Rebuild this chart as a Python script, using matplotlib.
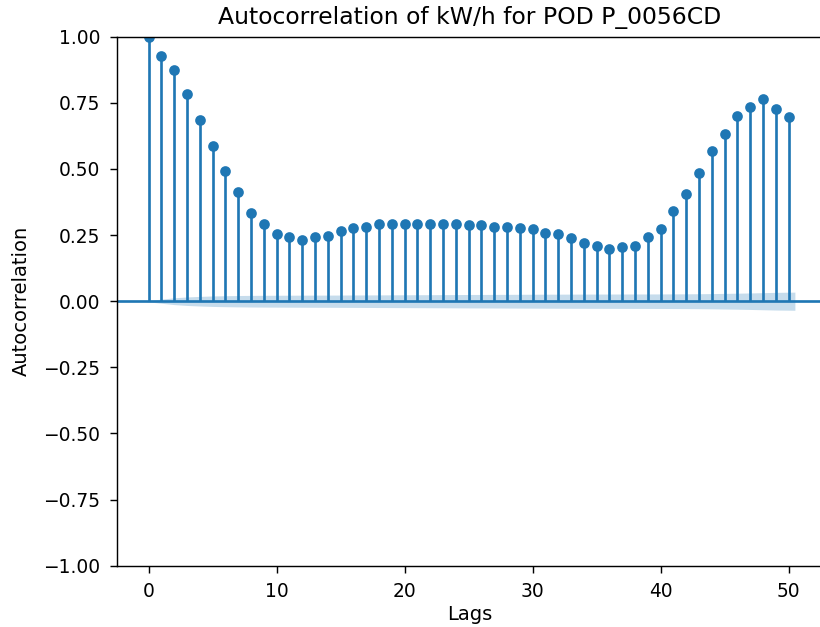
import numpy as np
import matplotlib
matplotlib.use("Agg")
import matplotlib.pyplot as plt

lags = list(range(51))
acf_values = [
    1.000, 0.928, 0.874, 0.783, 0.685, 0.588, 0.492, 0.414, 0.335, 0.292,
    0.253, 0.241, 0.231, 0.244, 0.248, 0.265, 0.276, 0.281, 0.293, 0.293,
    0.292, 0.292, 0.292, 0.292, 0.292, 0.287, 0.287, 0.282, 0.282, 0.278,
    0.274, 0.259, 0.255, 0.239, 0.221, 0.209, 0.199, 0.204, 0.209, 0.241,
    0.274, 0.340, 0.404, 0.485, 0.567, 0.631, 0.700, 0.733, 0.766, 0.728,
    0.695,
]
conf_halfwidth = [
    0.0, 0.0078, 0.0129, 0.0161, 0.0182, 0.0198, 0.0208, 0.0215, 0.0220, 0.0223,
    0.0225, 0.0227, 0.0228, 0.0230, 0.0231, 0.0233, 0.0235, 0.0237, 0.0239, 0.0241,
    0.0243, 0.0245, 0.0247, 0.0249, 0.0251, 0.0254, 0.0255, 0.0257, 0.0259, 0.0261,
    0.0263, 0.0265, 0.0266, 0.0268, 0.0269, 0.0270, 0.0271, 0.0272, 0.0273, 0.0274,
    0.0275, 0.0277, 0.0279, 0.0283, 0.0288, 0.0295, 0.0303, 0.0312, 0.0323, 0.0334,
    0.0343,
]
title = "Autocorrelation of kW/h for POD P_0056CD"

DPI = 128
fig = plt.figure(figsize=(820 / DPI, 627 / DPI), dpi=DPI)
# axes extends slightly past the right edge of the image (right spine cropped)
x_left_px, x_right_px = 116.7, 823.0
px_per_lag = (820.5 - 116.7) / 55.0
ax = fig.add_axes([x_left_px / 820, 1 - 565.7 / 627,
                   (x_right_px - x_left_px) / 820, 529 / 627])

c = "#1f77b4"
ax.vlines(lags, 0, acf_values, color=c, linewidth=1.5)
ax.axhline(0, color=c, linewidth=1.5)
ax.plot(lags, acf_values, marker="o", markersize=5, linestyle="None", color=c)

band_x = np.array(lags, dtype=float)
band_x[0] -= 0.5
band_x[-1] += 0.5
hw = np.array(conf_halfwidth)
ax.fill_between(band_x, -hw, hw, color=c, alpha=0.25, linewidth=0)

ax.set_xlim(-2.5, -2.5 + (x_right_px - x_left_px) / px_per_lag)
ax.set_ylim(-1, 1)
ax.set_xticks([0, 10, 20, 30, 40, 50])
ax.set_yticks([-1.0, -0.75, -0.5, -0.25, 0.0, 0.25, 0.5, 0.75, 1.0])
ax.tick_params(labelsize=10.5, length=3.9, pad=5.3)
ax.set_title(title, fontsize=13.2, pad=7)
ax.set_xlabel("Lags", fontsize=11, labelpad=2)
ax.set_ylabel("Autocorrelation", fontsize=11, labelpad=7)

fig.savefig("out.png", dpi=DPI)
